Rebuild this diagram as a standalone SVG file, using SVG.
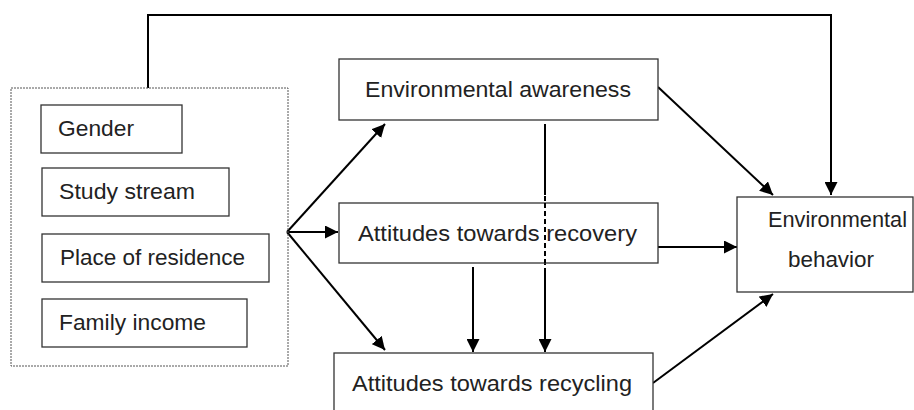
<svg xmlns="http://www.w3.org/2000/svg" width="914" height="410" viewBox="0 0 914 410">
<defs>
<marker id="ah" markerUnits="userSpaceOnUse" markerWidth="14" markerHeight="13" refX="13" refY="6.5" orient="auto">
<path d="M0,0 L13,6.5 L0,13 z" fill="#000"/>
</marker>
<style>
.box{fill:#fff;stroke:#333;stroke-width:1.3}
.grp{fill:none;stroke:#555;stroke-width:1;stroke-dasharray:2 1}
.t{font-family:"Liberation Sans",Arial,sans-serif;font-size:22px;fill:#222}
.c{fill:none;stroke:#000;stroke-width:2}
.d{stroke-dasharray:5 3}
</style>
</defs>
<rect width="914" height="410" fill="#fff"/>
<g id="connectors">
<path class="c" d="M148,88 V15 H831 V195" marker-end="url(#ah)"/>
<line class="c" x1="287" y1="232" x2="385" y2="124" marker-end="url(#ah)"/>
<line class="c" x1="287" y1="232" x2="338" y2="232" marker-end="url(#ah)"/>
<line class="c" x1="287" y1="232" x2="385" y2="350" marker-end="url(#ah)"/>
<line class="c" x1="545" y1="124" x2="545" y2="195"/>
<line class="c d" x1="545" y1="196" x2="545" y2="266"/>
<line class="c" x1="545" y1="268" x2="545" y2="352" marker-end="url(#ah)"/>
<line class="c" x1="473" y1="267" x2="473" y2="352" marker-end="url(#ah)"/>
<line class="c" x1="658" y1="87" x2="773" y2="195" marker-end="url(#ah)"/>
<line class="c" x1="658" y1="247" x2="737" y2="247" marker-end="url(#ah)"/>
<line class="c" x1="653" y1="383" x2="773" y2="294" marker-end="url(#ah)"/>
</g>
<g id="demographics">
<rect class="grp" x="11" y="88" width="277" height="278"/>
</g>
<g id="gender">
<rect class="box" x="41" y="105" width="141" height="48"/>
<text class="t" x="58" y="136" textLength="76" lengthAdjust="spacingAndGlyphs">Gender</text>
</g>
<g id="study-stream">
<rect class="box" x="42" y="168" width="187" height="48"/>
<text class="t" x="59" y="199" textLength="136" lengthAdjust="spacingAndGlyphs">Study stream</text>
</g>
<g id="place-of-residence">
<rect class="box" x="42" y="234" width="227" height="48"/>
<text class="t" x="60" y="265" textLength="185" lengthAdjust="spacingAndGlyphs">Place of residence</text>
</g>
<g id="family-income">
<rect class="box" x="42" y="299" width="205" height="48"/>
<text class="t" x="59" y="330" textLength="147" lengthAdjust="spacingAndGlyphs">Family income</text>
</g>
<g id="environmental-awareness">
<rect class="box" x="339" y="59" width="319" height="61"/>
<text class="t" x="365" y="97" textLength="266" lengthAdjust="spacingAndGlyphs">Environmental awareness</text>
</g>
<g id="attitudes-recovery">
<rect class="box" x="339" y="203" width="319" height="60"/>
<text class="t" x="358" y="241" textLength="279" lengthAdjust="spacingAndGlyphs">Attitudes towards recovery</text>
</g>
<line class="c d" x1="545" y1="203" x2="545" y2="263"/>
<g id="attitudes-recycling">
<rect class="box" x="334" y="353" width="319" height="62"/>
<text class="t" x="352" y="391" textLength="280" lengthAdjust="spacingAndGlyphs">Attitudes towards recycling</text>
</g>
<g id="environmental-behavior">
<rect class="box" x="737" y="197" width="176" height="95"/>
<text class="t" x="768" y="227" textLength="139" lengthAdjust="spacingAndGlyphs">Environmental</text>
<text class="t" x="788" y="267" textLength="86" lengthAdjust="spacingAndGlyphs">behavior</text>
</g>
</svg>
